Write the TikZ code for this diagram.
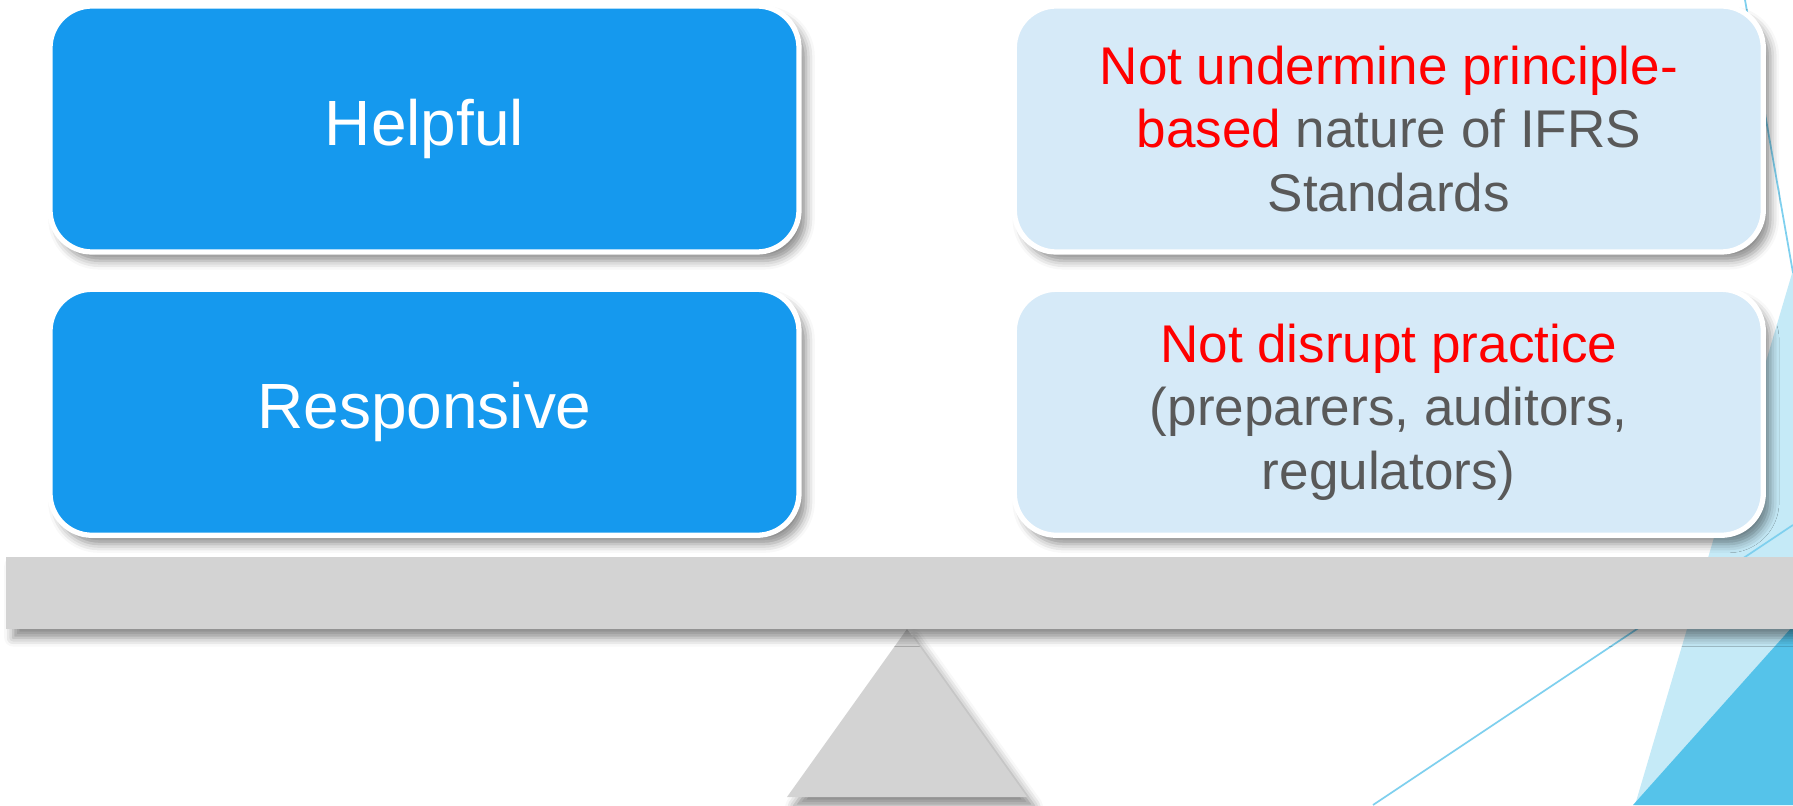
\documentclass[tikz,border=0pt]{standalone}
\usepackage{fontspec}
\setmainfont{Liberation Sans}
\usetikzlibrary{positioning,shadows.blur}

\definecolor{boxblue}{RGB}{21,153,238}
\definecolor{boxpale}{RGB}{214,234,248}
\definecolor{textgray}{RGB}{89,89,89}
\definecolor{beamgray}{RGB}{211,211,211}
\definecolor{skyline}{RGB}{127,208,238}
\definecolor{skypale}{RGB}{197,234,247}
\definecolor{skydeep}{RGB}{85,195,234}

\begin{document}
\begin{tikzpicture}
      [softshadow/.style= {
         blur shadow = {shadow xshift = 2pt, shadow yshift = -2.5pt,
            shadow blur radius = 2.5pt, shadow opacity = 45}
      },
      card/.style= {
         draw = white,
         line width = 1.5pt,
         rounded corners = 0.42cm,
         minimum width = 7.49cm,
         minimum height = 2.46cm,
         align = center,
         softshadow
      },
      mainbox/.style= {
         card,
         fill = boxblue,
         text = white,
         font = \fontsize{18.2pt}{22pt}\selectfont
      },
      sidebox/.style= {
         card,
         fill = boxpale,
         text = textgray,
         font = \fontsize{15.1pt}{18.2pt}\selectfont
      },
      beam/.style= {
         fill = beamgray,
         minimum width = 18cm,
         minimum height = 0.72cm,
         inner sep = 0pt,
         softshadow
      },
      fulcrum/.style= {
         fill = beamgray,
         softshadow
      },
      streak/.style= {skyline, line width = 0.5pt}]

      \useasboundingbox (0, 0) rectangle (17.93, 8.05);
      \clip (0, 0) rectangle (17.93, 8.05);

      % backdrop at the right edge
      \fill[skypale] (16.35, 0) -- (17.93, 5.35) -- (17.93, 0) -- cycle;
      \fill[skydeep] (16.33, 0) -- (17.93, 1.79) -- (17.93, 0) -- cycle;
      \draw[streak] (13.73, 0) -- (17.93, 2.80);
      \draw[streak] (17.45, 8.05) -- (17.93, 5.32);

      % the four cards
      \node[mainbox] (helpful) at (4.245, 6.76) {Helpful};
      \node[mainbox, below = 0.32cm of helpful] (responsive) {Responsive};
      \node[sidebox, right = 2.10cm of helpful] (principles)
         {\textcolor{red}{Not undermine principle-}\\
          \textcolor{red}{based} nature of IFRS\\
          Standards};
      \node[sidebox, right = 2.10cm of responsive] (practice)
         {\textcolor{red}{Not disrupt practice}\\
          (preparers, auditors,\\
          regulators)};

      % seesaw
      \coordinate (apex) at (9.07, 1.76);
      \path[fulcrum] (apex) -- (10.27, 0.08) -- (7.87, 0.08) -- cycle;
      \node[beam] (beam) at (9.06, 2.12) {};

   \end{tikzpicture}
\end{document}
